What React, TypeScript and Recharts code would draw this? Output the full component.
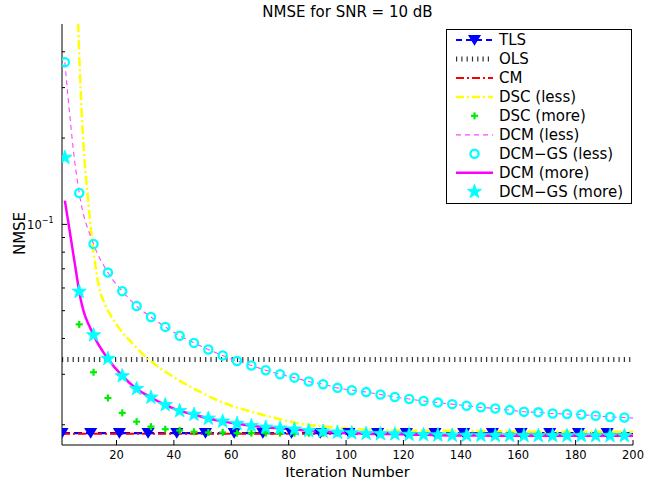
import React from 'react';
import { ComposedChart, Line, XAxis, YAxis } from 'recharts';

const TITLE = 'NMSE for SNR = 10 dB';
const X_LABEL = 'Iteration Number';
const Y_LABEL = 'NMSE';
const FONT = '"DejaVu Sans", Arial, sans-serif';

const xTicks = [20, 40, 60, 80, 100, 120, 140, 160, 180, 200];
const yTicks = [0.02, 0.03, 0.04, 0.05, 0.06, 0.07, 0.08, 0.09, 0.1, 0.2, 0.3, 0.4];
const yMajorTicks = [0.1];
const xDomain = [1, 200];
const yDomain = [0.017, 0.5];

const seriesNames = [
  'TLS', 'OLS', 'CM', 'DSC (less)', 'DSC (more)', 'DCM (less)',
  'DCM\u2212GS (less)', 'DCM (more)', 'DCM\u2212GS (more)',
];

// horizontal reference levels
const levelX = [1, 200];
const TLS_LEVEL = 0.0187;
const CM_LEVEL = 0.0186;
const OLS_LEVEL = 0.0338;
const tlsMarkX = [1, 11, 21, 31, 41, 51, 61, 71, 81, 91, 101, 111, 121, 131, 141, 151, 161, 171, 181, 191];

// marker grid for GS series
const gsX = [2, 7, 12, 17, 22, 27, 32, 37, 42, 47, 52, 57, 62, 67, 72, 77, 82, 87, 92, 97,
  102, 107, 112, 117, 122, 127, 132, 137, 142, 147, 152, 157, 162, 167, 172, 177, 182, 187, 192, 197];

const dcmGsLess = [0.368, 0.1286, 0.0854, 0.0679, 0.0585, 0.0519, 0.0475, 0.0439, 0.0409, 0.0386,
  0.0366, 0.0349, 0.0334, 0.0322, 0.031, 0.03, 0.0292, 0.0283, 0.0277, 0.0269,
  0.0264, 0.026, 0.0255, 0.025, 0.0246, 0.0242, 0.0239, 0.0236, 0.0233, 0.023,
  0.0228, 0.0225, 0.0222, 0.0221, 0.0219, 0.0218, 0.0217, 0.0215, 0.0213, 0.0212];

const dcmLessX = [2, 3, 4, 5, 6, 7, 12, 17, 22, 27, 32, 37, 42, 47, 52, 57, 62, 67, 72, 77, 82, 87, 92, 97,
  102, 107, 112, 117, 122, 127, 132, 137, 142, 147, 152, 157, 162, 167, 172, 177, 182, 187, 192, 197, 200];
const dcmLess = [0.368, 0.285, 0.225, 0.18, 0.15, 0.1286, 0.0854, 0.0679, 0.0585, 0.0519, 0.0475, 0.0439, 0.0409, 0.0386,
  0.0366, 0.0349, 0.0334, 0.0322, 0.031, 0.03, 0.0292, 0.0283, 0.0277, 0.0269,
  0.0264, 0.026, 0.0255, 0.025, 0.0246, 0.0242, 0.0239, 0.0236, 0.0233, 0.023,
  0.0228, 0.0225, 0.0222, 0.0221, 0.0219, 0.0218, 0.0217, 0.0215, 0.0213, 0.0212, 0.0211];

const dcmGsMore = [0.171, 0.0583, 0.0411, 0.034, 0.0296, 0.0267, 0.0249, 0.02345, 0.02236, 0.02172,
  0.02104, 0.02055, 0.02016, 0.01984, 0.01958, 0.01943, 0.01928, 0.01906, 0.01895, 0.01881,
  0.01871, 0.01862, 0.01858, 0.01855, 0.01848, 0.01845, 0.0184, 0.01836, 0.01835, 0.01833,
  0.01832, 0.01831, 0.0183, 0.0183, 0.0183, 0.0183, 0.0183, 0.0183, 0.0183, 0.0183];

const dcmMoreX = [2, 3, 4, 5, 6, 7, 12, 17, 22, 27, 32, 37, 42, 47, 52, 57, 62, 67, 72, 77, 82, 87, 92, 97,
  102, 107, 112, 117, 122, 127, 132, 137, 142, 147, 152, 157, 162, 167, 172, 177, 182, 187, 192, 197, 200];
const dcmMore = [0.121, 0.1047, 0.0904, 0.0781, 0.0674, 0.0583, 0.0411, 0.034, 0.0296, 0.0267, 0.0249, 0.02345, 0.02236, 0.02172,
  0.02104, 0.02055, 0.02016, 0.01984, 0.01958, 0.01943, 0.01928, 0.01906, 0.01895, 0.01881,
  0.01871, 0.01862, 0.01858, 0.01855, 0.01848, 0.01845, 0.0184, 0.01836, 0.01835, 0.01833,
  0.01832, 0.01831, 0.0183, 0.0183, 0.0183, 0.0183, 0.0183, 0.0183, 0.0183, 0.0183, 0.0183];

const dscMoreX = [7, 12, 17, 22, 27, 32, 37, 42, 47, 52, 57, 62, 67, 72, 77, 82, 87, 92, 97,
  102, 107, 112, 117, 122, 127, 132, 137, 142, 147, 152, 157, 162, 167, 172, 177, 182, 187, 192, 197];
const dscMore = [0.0448, 0.0305, 0.0248, 0.022, 0.0205, 0.0197, 0.0193, 0.0191, 0.0189, 0.0188,
  0.0188, 0.0187, 0.0187, 0.0187, 0.0187, 0.0187, 0.0187, 0.0187, 0.0187,
  0.0187, 0.0187, 0.0186, 0.0186, 0.0186, 0.0186, 0.0186, 0.0186, 0.0186, 0.0186, 0.0186,
  0.0186, 0.0186, 0.0186, 0.0186, 0.0186, 0.0186, 0.0186, 0.0186, 0.0186];

const dscLessX = [5, 6, 7, 8, 9, 10, 11, 12, 13, 14, 16, 18, 20, 22, 25, 28, 32, 36, 40, 45, 50, 55, 60, 65, 70, 77, 85, 95, 110, 125, 150, 175, 200];
const dscLess = [1.5, 0.8, 0.39, 0.23, 0.16, 0.125, 0.098, 0.08, 0.068, 0.06, 0.0525, 0.048, 0.0448, 0.042, 0.039, 0.0362,
  0.0333, 0.0311, 0.0293, 0.0274, 0.0258, 0.0244, 0.0233, 0.0225, 0.0218, 0.0209, 0.0201, 0.0196, 0.0192, 0.0191, 0.019, 0.0189, 0.0189];

const pts = (xs: number[], ys: number[]) => xs.map((x, i) => ({ x, y: ys[i] }));
const tlsLine = pts(levelX, levelX.map(() => TLS_LEVEL));
const tlsMarks = pts(tlsMarkX, tlsMarkX.map(() => TLS_LEVEL));
const cmLine = pts(levelX, levelX.map(() => CM_LEVEL));
const olsLine = pts(levelX, levelX.map(() => OLS_LEVEL));

const BLUE = '#0000ff';
const RED = '#ff0000';
const YELLOW = '#ffff00';
const GREEN = '#00ee00';
const MAGENTA = '#ff00ff';
const MAGENTA_LIGHT = '#ff44ff';
const CYAN = '#00ffff';
const OLS_COLOR = '#333333';

const starPoints = (cx: number, cy: number, R: number, r: number) => {
  const p: string[] = [];
  for (let i = 0; i < 10; i++) {
    const a = -Math.PI / 2 + (i * Math.PI) / 5;
    const rad = i % 2 === 0 ? R : r;
    p.push(`${cx + rad * Math.cos(a)},${cy + rad * Math.sin(a)}`);
  }
  return p.join(' ');
};

const Tri = ({ cx, cy }: any) => (
  <polygon points={`${cx - 5.5},${cy - 4.5} ${cx + 5.5},${cy - 4.5} ${cx},${cy + 4.5}`} fill={BLUE} stroke={BLUE} strokeWidth={1.2} />
);
const Plus = ({ cx, cy }: any) => (
  <g stroke={GREEN} strokeWidth={2.2}>
    <line x1={cx - 3.5} x2={cx + 3.5} y1={cy} y2={cy} />
    <line x1={cx} x2={cx} y1={cy - 3.5} y2={cy + 3.5} />
  </g>
);
const Circ = ({ cx, cy }: any) => <circle cx={cx} cy={cy} r={4.1} fill="none" stroke={CYAN} strokeWidth={2.3} />;
const Star = ({ cx, cy }: any) => <polygon points={starPoints(cx, cy, 7.5, 3)} fill={CYAN} stroke={CYAN} strokeWidth={0.8} />;

const dotFn = (C: any) => (p: any) => {
  if (p.cx == null || p.cy == null) return <g key={`e${p.index}`} />;
  return <g key={`d${p.index}`}><C cx={p.cx} cy={p.cy} /></g>;
};

const XTickBottom = ({ x, y, payload }: any) => (
  <g>
    <line x1={x} x2={x} y1={y} y2={y - 5} stroke="#000" strokeWidth={1} />
    <text x={x} y={y + 14.3} textAnchor="middle" fontSize={11.5} fontFamily={FONT} fill="#000">{payload.value}</text>
  </g>
);
const XTickTop = ({ x, y }: any) => <line x1={x} x2={x} y1={y} y2={y + 5} stroke="#000" strokeWidth={1} />;
const YTickLeft = ({ x, y, payload }: any) => {
  const major = yMajorTicks.includes(payload.value);
  return (
    <g>
      <line x1={x} x2={x + (major ? 5 : 3)} y1={y} y2={y} stroke="#000" strokeWidth={1} />
      {major && (
        <text x={x - 8.5} y={y + 4.5} textAnchor="end" fontSize={11.5} fontFamily={FONT} fill="#000">
          <tspan>10</tspan>
          <tspan dy={-5.5} fontSize={8}>{'\u22121'}</tspan>
        </text>
      )}
    </g>
  );
};
const YTickRight = ({ x, y, payload }: any) => {
  const major = yMajorTicks.includes(payload.value);
  return <line x1={x} x2={x - (major ? 5 : 3)} y1={y} y2={y} stroke="#000" strokeWidth={1} />;
};

const legendStyles = [
  { stroke: BLUE, dash: '6 4', w: 2.2, marker: Tri },
  { stroke: OLS_COLOR, dash: '1.2 4.1', w: 5, marker: null },
  { stroke: RED, dash: '8 3 2 3', w: 2, marker: null },
  { stroke: YELLOW, dash: '8 3 2 3', w: 2.5, marker: null },
  { stroke: 'none', dash: undefined, w: 0, marker: Plus },
  { stroke: MAGENTA_LIGHT, dash: '5 4', w: 1.2, marker: null },
  { stroke: 'none', dash: undefined, w: 0, marker: Circ },
  { stroke: MAGENTA, dash: undefined, w: 2.5, marker: null },
  { stroke: 'none', dash: undefined, w: 0, marker: Star },
];

export default function App() {
  const L = { x: 446.5, y: 29.5, w: 185, h: 174 };
  return (
    <div style={{ position: 'absolute', left: 0, top: 0, width: 657, height: 482, background: '#fff' }}>
      <ComposedChart width={657} height={482} margin={{ top: 24, right: 24, left: 0, bottom: 0 }}>
        <XAxis xAxisId="b" dataKey="x" type="number" domain={xDomain} ticks={xTicks} interval={0}
          allowDataOverflow orientation="bottom" height={37} tickSize={0} tickMargin={0}
          tickLine={false} axisLine={{ stroke: '#000', strokeWidth: 1 }} tick={<XTickBottom />} />
        <XAxis xAxisId="t" dataKey="x" type="number" domain={xDomain} ticks={xTicks} interval={0}
          allowDataOverflow orientation="top" height={0} tickSize={0} tickMargin={0}
          tickLine={false} axisLine={{ stroke: '#000', strokeWidth: 1 }} tick={<XTickTop />} />
        <YAxis yAxisId="l" type="number" scale="log" domain={yDomain} ticks={yTicks} interval={0}
          allowDataOverflow orientation="left" width={62} tickSize={0} tickMargin={0}
          tickLine={false} axisLine={{ stroke: '#000', strokeWidth: 1 }} tick={<YTickLeft />} />
        <YAxis yAxisId="r" type="number" scale="log" domain={yDomain} ticks={yTicks} interval={0}
          allowDataOverflow orientation="right" width={0} tickSize={0} tickMargin={0}
          tickLine={false} axisLine={{ stroke: '#000', strokeWidth: 1 }} tick={<YTickRight />} />

        <Line xAxisId="b" yAxisId="l" data={tlsLine} dataKey="y" stroke={BLUE} strokeWidth={2.2}
          strokeDasharray="8 4" dot={false} isAnimationActive={false} />
        <Line xAxisId="b" yAxisId="l" data={tlsMarks} dataKey="y" stroke="none"
          dot={dotFn(Tri)} isAnimationActive={false} />
        <Line xAxisId="b" yAxisId="l" data={olsLine} dataKey="y" stroke={OLS_COLOR} strokeWidth={5}
          strokeDasharray="1.2 4.1" dot={false} isAnimationActive={false} />
        <Line xAxisId="b" yAxisId="l" data={cmLine} dataKey="y" stroke={RED} strokeWidth={2}
          strokeDasharray="8 3 2 3" dot={false} isAnimationActive={false} />
        <Line xAxisId="b" yAxisId="l" data={pts(dscLessX, dscLess)} dataKey="y" type="monotone" stroke={YELLOW}
          strokeWidth={2.5} strokeDasharray="9 3 2 3" dot={false} isAnimationActive={false} />
        <Line xAxisId="b" yAxisId="l" data={pts(dscMoreX, dscMore)} dataKey="y" stroke="none"
          dot={dotFn(Plus)} isAnimationActive={false} />
        <Line xAxisId="b" yAxisId="l" data={pts(dcmLessX, dcmLess)} dataKey="y" type="monotone" stroke={MAGENTA_LIGHT}
          strokeWidth={1.1} strokeDasharray="5 4" dot={false} isAnimationActive={false} />
        <Line xAxisId="b" yAxisId="l" data={pts(gsX, dcmGsLess)} dataKey="y" stroke="none"
          dot={dotFn(Circ)} isAnimationActive={false} />
        <Line xAxisId="b" yAxisId="l" data={pts(dcmMoreX, dcmMore)} dataKey="y" type="monotone" stroke={MAGENTA}
          strokeWidth={2.5} dot={false} isAnimationActive={false} />
        <Line xAxisId="b" yAxisId="l" data={pts(gsX, dcmGsMore)} dataKey="y" stroke="none"
          dot={dotFn(Star)} isAnimationActive={false} />
      </ComposedChart>

      <svg width={657} height={482} style={{ position: 'absolute', left: 0, top: 0, pointerEvents: 'none' }}>
        <text x={347.5} y={17} textAnchor="middle" fontSize={15} fontFamily={FONT} fill="#000">{TITLE}</text>
        <text x={347.5} y={476.5} textAnchor="middle" fontSize={14.5} fontFamily={FONT} fill="#000">{X_LABEL}</text>
        <text transform="translate(25,233.5) rotate(-90)" textAnchor="middle" fontSize={15} fontFamily={FONT} fill="#000">{Y_LABEL}</text>
        <rect x={L.x} y={L.y} width={L.w} height={L.h} fill="#fff" stroke="#000" strokeWidth={1} />
        {seriesNames.map((name, i) => {
          const cy = 40 + i * 18.96;
          const s = legendStyles[i];
          const M = s.marker as any;
          return (
            <g key={name}>
              {s.stroke !== 'none' && (
                <line x1={456} x2={493} y1={cy} y2={cy} stroke={s.stroke} strokeWidth={s.w} strokeDasharray={s.dash} />
              )}
              {M && <M cx={474.5} cy={cy} />}
              <text x={499} y={cy + 5.4} fontSize={15} fontFamily={FONT} fill="#000">{name}</text>
            </g>
          );
        })}
      </svg>
    </div>
  );
}
